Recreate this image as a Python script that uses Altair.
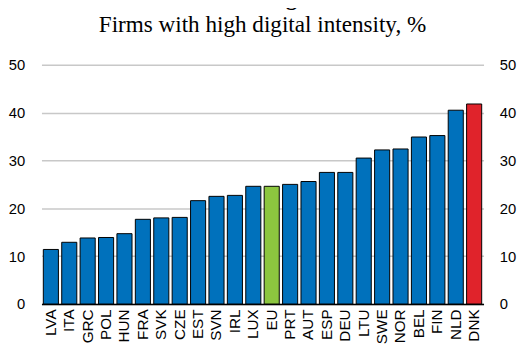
import altair as alt
import pandas as pd

countries = ["LVA", "ITA", "GRC", "POL", "HUN", "FRA", "SVK", "CZE", "EST", "SVN", "IRL", "LUX",
             "EU", "PRT", "AUT", "ESP", "DEU", "LTU", "SWE", "NOR", "BEL", "FIN", "NLD", "DNK"]
values = [11.4, 12.9, 13.8, 13.9, 14.7, 17.7, 18.0, 18.1, 21.6, 22.5, 22.7, 24.6,
          24.6, 25.0, 25.6, 27.5, 27.5, 30.5, 32.2, 32.4, 34.9, 35.2, 40.5, 41.8]
groups = ["other"] * 12 + ["EU"] + ["other"] * 10 + ["DNK"]

df = pd.DataFrame({"country": countries, "value": values, "group": groups})

label_font = "Liberation Sans, Arial, sans-serif"

x = alt.X("country:N", sort=countries, title=None,
          scale=alt.Scale(paddingInner=0.18, paddingOuter=0.1),
          axis=alt.Axis(labelAngle=-90, ticks=False, domainColor="black", domainWidth=1.5,
                        labelFont=label_font, labelFontSize=15.5, labelColor="black",
                        labelPadding=5, grid=False))

yscale = alt.Scale(domain=[0, 50], nice=False)

bars = alt.Chart(df).mark_bar(stroke="black", strokeWidth=1).encode(
    x=x,
    y=alt.Y("value:Q", title=None, scale=yscale,
            axis=alt.Axis(values=[0, 10, 20, 30, 40, 50], orient="left", ticks=False, domain=False,
                          grid=True, gridColor="#c8c8c8", gridWidth=1.5,
                          labelFont=label_font, labelFontSize=15, labelColor="black",
                          labelPadding=17)),
    color=alt.Color("group:N", legend=None,
                    scale=alt.Scale(domain=["other", "EU", "DNK"],
                                    range=["#0071BC", "#8CC63F", "#E0232B"])),
)

right = alt.Chart(df).mark_bar(opacity=0).encode(
    x=x,
    y=alt.Y("value:Q", title=None, scale=yscale,
            axis=alt.Axis(values=[0, 10, 20, 30, 40, 50], orient="right", ticks=False, domain=False,
                          grid=False, labelFont=label_font, labelFontSize=15, labelColor="black",
                          labelPadding=16)),
)

chart = alt.layer(bars, right).resolve_axis(y="independent").properties(
    width=449,
    height=243,
    autosize=alt.AutoSizeParams(type="none"),
    padding={"left": 34, "top": 55, "right": 35, "bottom": 40},
    title=alt.TitleParams(
        text="technologies",
        subtitle="Firms with high digital intensity, %",
        font="Liberation Serif", fontSize=23.5, fontWeight="bold", color="black",
        subtitleFont="Liberation Serif", subtitleFontSize=23.5, subtitleFontWeight="normal",
        subtitleColor="black", subtitlePadding=4, anchor="middle", offset=22,
    ),
).configure_view(stroke=None)

chart.save("out.html", embed_options={"renderer": "svg", "actions": False})
